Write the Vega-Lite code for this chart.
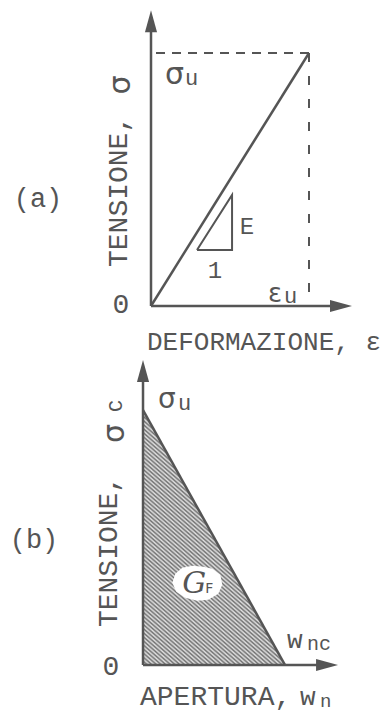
{
  "$schema": "https://vega.github.io/schema/vega-lite/v6.json",
  "background": "white",
  "padding": 0,
  "spacing": 0,
  "config": {
    "view": {"stroke": null},
    "concat": {"spacing": 0},
    "text": {"font": "Liberation Mono", "fill": "#555555"}
  },
  "vconcat": [
    {
      "width": 388,
      "height": 357,
      "encoding": {
        "x": {"field": "e", "type": "quantitative", "scale": {"domain": [-0.9557, 1.5], "nice": false, "zero": false}, "axis": null},
        "y": {"field": "s", "type": "quantitative", "scale": {"domain": [-0.2016, 1.2095], "nice": false, "zero": false}, "axis": null}
      },
      "layer": [
        {
          "data": {"values": [{"e": 0, "s": 0, "e2": 0, "s2": 1.126}, {"e": 0, "s": 0, "e2": 1.2025, "s2": 0}]},
          "mark": {"type": "rule", "color": "#555555", "strokeWidth": 2.5},
          "encoding": {"x2": {"field": "e2"}, "y2": {"field": "s2"}}
        },
        {
          "data": {"values": [{"e": 0, "s": 1.126}]},
          "mark": {"type": "point", "shape": "M0,-1L0.55,1L-0.55,1Z", "filled": true, "color": "#555555", "size": 484, "opacity": 1, "strokeWidth": 0}
        },
        {
          "data": {"values": [{"e": 1.2025, "s": 0}]},
          "mark": {"type": "point", "shape": "M1,0L-1,0.55L-1,-0.55Z", "filled": true, "color": "#555555", "size": 484, "opacity": 1, "strokeWidth": 0}
        },
        {
          "data": {"values": [{"e": 1, "s": 1, "e2": 0, "s2": 1}]},
          "mark": {"type": "rule", "color": "#555555", "strokeWidth": 2, "strokeDash": [9, 7]},
          "encoding": {"x2": {"field": "e2"}, "y2": {"field": "s2"}}
        },
        {
          "data": {"values": [{"e": 1, "s": 1, "e2": 1, "s2": 0}]},
          "mark": {"type": "rule", "color": "#555555", "strokeWidth": 2, "strokeDash": [9, 14]},
          "encoding": {"x2": {"field": "e2"}, "y2": {"field": "s2"}}
        },
        {
          "data": {"values": [{"e": 0, "s": 0}, {"e": 1, "s": 1}]},
          "mark": {"type": "line", "color": "#555555", "strokeWidth": 2.5}
        },
        {
          "data": {"values": [{"e": 0.291, "s": 0.221, "o": 0}, {"e": 0.513, "s": 0.221, "o": 1}, {"e": 0.513, "s": 0.439, "o": 2}, {"e": 0.291, "s": 0.221, "o": 3}]},
          "mark": {"type": "line", "color": "#555555", "strokeWidth": 2},
          "encoding": {"order": {"field": "o", "type": "quantitative"}}
        },
        {
          "data": {"values": [{"e": 0, "s": 1}]},
          "mark": {"type": "text", "text": "σ", "font": "DejaVu Sans", "fontSize": 30, "align": "left", "baseline": "alphabetic", "dx": 14, "dy": 31}
        },
        {
          "data": {"values": [{"e": 0, "s": 1}]},
          "mark": {"type": "text", "text": "u", "fontSize": 22, "align": "left", "baseline": "alphabetic", "dx": 34, "dy": 32}
        },
        {
          "data": {"values": [{"e": 0, "s": 0.5}]},
          "mark": {"type": "text", "text": "TENSIONE,", "fontSize": 28, "angle": -90, "align": "left", "baseline": "middle", "dx": -87.5, "dy": -32.5}
        },
        {
          "data": {"values": [{"e": 0, "s": 0.5}]},
          "mark": {"type": "text", "text": "σ", "font": "DejaVu Sans", "fontSize": 30, "angle": -90, "align": "center", "baseline": "middle", "dx": 94.5, "dy": -30.5}
        },
        {
          "data": {"values": [{"e": 0, "s": 0}]},
          "mark": {"type": "text", "text": "DEFORMAZIONE, ε", "fontSize": 26, "align": "left", "baseline": "alphabetic", "dx": -4, "dy": 44}
        },
        {
          "data": {"values": [{"e": 0, "s": 0.5}]},
          "mark": {"type": "text", "text": "(a)", "fontSize": 27, "align": "center", "baseline": "middle", "dx": -113, "dy": 19.5}
        },
        {
          "data": {"values": [{"e": 0, "s": 0}]},
          "mark": {"type": "text", "text": "0", "fontSize": 28, "align": "center", "baseline": "middle", "dx": -30, "dy": -1}
        },
        {
          "data": {"values": [{"e": 1, "s": 0}]},
          "mark": {"type": "text", "text": "ε", "font": "DejaVu Sans", "fontSize": 26, "align": "left", "baseline": "alphabetic", "dx": -41, "dy": -4}
        },
        {
          "data": {"values": [{"e": 1, "s": 0}]},
          "mark": {"type": "text", "text": "u", "fontSize": 22, "align": "left", "baseline": "alphabetic", "dx": -25, "dy": -3}
        },
        {
          "data": {"values": [{"e": 0.513, "s": 0.33}]},
          "mark": {"type": "text", "text": "E", "fontSize": 24, "align": "center", "baseline": "middle", "dx": 15, "dy": 4.5}
        },
        {
          "data": {"values": [{"e": 0.402, "s": 0.221}]},
          "mark": {"type": "text", "text": "1", "fontSize": 24, "align": "center", "baseline": "middle", "dx": 0.5, "dy": 21}
        }
      ]
    },
    {
      "width": 388,
      "height": 356,
      "encoding": {
        "x": {"field": "e", "type": "quantitative", "scale": {"domain": [-1.007, 1.725], "nice": false, "zero": false}, "axis": null},
        "y": {"field": "s", "type": "quantitative", "scale": {"domain": [-0.188, 1.208], "nice": false, "zero": false}, "axis": null}
      },
      "layer": [
        {
          "data": {"values": [{"e": 0, "s": 1}, {"e": 1, "s": 0}]},
          "mark": {
            "type": "area",
            "opacity": 1,
            "fill": {
              "gradient": "linear",
              "x1": 0, "y1": 1, "x2": 0.394, "y2": 0.192,
              "stops": [
                {"offset": 0, "color": "#707070"}, {"offset": 0.008, "color": "#e2e2e2"},
                {"offset": 0.016, "color": "#707070"}, {"offset": 0.024, "color": "#e2e2e2"},
                {"offset": 0.032, "color": "#707070"}, {"offset": 0.04, "color": "#e2e2e2"},
                {"offset": 0.048, "color": "#707070"}, {"offset": 0.056, "color": "#e2e2e2"},
                {"offset": 0.064, "color": "#707070"}, {"offset": 0.072, "color": "#e2e2e2"},
                {"offset": 0.08, "color": "#707070"}, {"offset": 0.088, "color": "#e2e2e2"},
                {"offset": 0.096, "color": "#707070"}, {"offset": 0.104, "color": "#e2e2e2"},
                {"offset": 0.112, "color": "#707070"}, {"offset": 0.12, "color": "#e2e2e2"},
                {"offset": 0.128, "color": "#707070"}, {"offset": 0.136, "color": "#e2e2e2"},
                {"offset": 0.144, "color": "#707070"}, {"offset": 0.152, "color": "#e2e2e2"},
                {"offset": 0.16, "color": "#707070"}, {"offset": 0.168, "color": "#e2e2e2"},
                {"offset": 0.176, "color": "#707070"}, {"offset": 0.184, "color": "#e2e2e2"},
                {"offset": 0.192, "color": "#707070"}, {"offset": 0.2, "color": "#e2e2e2"},
                {"offset": 0.208, "color": "#707070"}, {"offset": 0.216, "color": "#e2e2e2"},
                {"offset": 0.224, "color": "#707070"}, {"offset": 0.232, "color": "#e2e2e2"},
                {"offset": 0.24, "color": "#707070"}, {"offset": 0.248, "color": "#e2e2e2"},
                {"offset": 0.256, "color": "#707070"}, {"offset": 0.264, "color": "#e2e2e2"},
                {"offset": 0.272, "color": "#707070"}, {"offset": 0.28, "color": "#e2e2e2"},
                {"offset": 0.288, "color": "#707070"}, {"offset": 0.296, "color": "#e2e2e2"},
                {"offset": 0.304, "color": "#707070"}, {"offset": 0.312, "color": "#e2e2e2"},
                {"offset": 0.32, "color": "#707070"}, {"offset": 0.328, "color": "#e2e2e2"},
                {"offset": 0.336, "color": "#707070"}, {"offset": 0.344, "color": "#e2e2e2"},
                {"offset": 0.352, "color": "#707070"}, {"offset": 0.36, "color": "#e2e2e2"},
                {"offset": 0.368, "color": "#707070"}, {"offset": 0.376, "color": "#e2e2e2"},
                {"offset": 0.384, "color": "#707070"}, {"offset": 0.392, "color": "#e2e2e2"},
                {"offset": 0.4, "color": "#707070"}, {"offset": 0.408, "color": "#e2e2e2"},
                {"offset": 0.416, "color": "#707070"}, {"offset": 0.424, "color": "#e2e2e2"},
                {"offset": 0.432, "color": "#707070"}, {"offset": 0.44, "color": "#e2e2e2"},
                {"offset": 0.448, "color": "#707070"}, {"offset": 0.456, "color": "#e2e2e2"},
                {"offset": 0.464, "color": "#707070"}, {"offset": 0.472, "color": "#e2e2e2"},
                {"offset": 0.48, "color": "#707070"}, {"offset": 0.488, "color": "#e2e2e2"},
                {"offset": 0.496, "color": "#707070"}, {"offset": 0.504, "color": "#e2e2e2"},
                {"offset": 0.512, "color": "#707070"}, {"offset": 0.52, "color": "#e2e2e2"},
                {"offset": 0.528, "color": "#707070"}, {"offset": 0.536, "color": "#e2e2e2"},
                {"offset": 0.544, "color": "#707070"}, {"offset": 0.552, "color": "#e2e2e2"},
                {"offset": 0.56, "color": "#707070"}, {"offset": 0.568, "color": "#e2e2e2"},
                {"offset": 0.576, "color": "#707070"}, {"offset": 0.584, "color": "#e2e2e2"},
                {"offset": 0.592, "color": "#707070"}, {"offset": 0.6, "color": "#e2e2e2"},
                {"offset": 0.608, "color": "#707070"}, {"offset": 0.616, "color": "#e2e2e2"},
                {"offset": 0.624, "color": "#707070"}, {"offset": 0.632, "color": "#e2e2e2"},
                {"offset": 0.64, "color": "#707070"}, {"offset": 0.648, "color": "#e2e2e2"},
                {"offset": 0.656, "color": "#707070"}, {"offset": 0.664, "color": "#e2e2e2"},
                {"offset": 0.672, "color": "#707070"}, {"offset": 0.68, "color": "#e2e2e2"},
                {"offset": 0.688, "color": "#707070"}, {"offset": 0.696, "color": "#e2e2e2"},
                {"offset": 0.704, "color": "#707070"}, {"offset": 0.712, "color": "#e2e2e2"},
                {"offset": 0.72, "color": "#707070"}, {"offset": 0.728, "color": "#e2e2e2"},
                {"offset": 0.736, "color": "#707070"}, {"offset": 0.744, "color": "#e2e2e2"},
                {"offset": 0.752, "color": "#707070"}, {"offset": 0.76, "color": "#e2e2e2"},
                {"offset": 0.768, "color": "#707070"}, {"offset": 0.776, "color": "#e2e2e2"},
                {"offset": 0.784, "color": "#707070"}, {"offset": 0.792, "color": "#e2e2e2"},
                {"offset": 0.8, "color": "#707070"}, {"offset": 0.808, "color": "#e2e2e2"},
                {"offset": 0.816, "color": "#707070"}, {"offset": 0.824, "color": "#e2e2e2"},
                {"offset": 0.832, "color": "#707070"}, {"offset": 0.84, "color": "#e2e2e2"},
                {"offset": 0.848, "color": "#707070"}, {"offset": 0.856, "color": "#e2e2e2"},
                {"offset": 0.864, "color": "#707070"}, {"offset": 0.872, "color": "#e2e2e2"},
                {"offset": 0.88, "color": "#707070"}, {"offset": 0.888, "color": "#e2e2e2"},
                {"offset": 0.896, "color": "#707070"}, {"offset": 0.904, "color": "#e2e2e2"},
                {"offset": 0.912, "color": "#707070"}, {"offset": 0.92, "color": "#e2e2e2"},
                {"offset": 0.928, "color": "#707070"}, {"offset": 0.936, "color": "#e2e2e2"},
                {"offset": 0.944, "color": "#707070"}, {"offset": 0.952, "color": "#e2e2e2"},
                {"offset": 0.96, "color": "#707070"}, {"offset": 0.968, "color": "#e2e2e2"},
                {"offset": 0.976, "color": "#707070"}, {"offset": 0.984, "color": "#e2e2e2"},
                {"offset": 0.992, "color": "#707070"}, {"offset": 1, "color": "#e2e2e2"}
              ]
            }
          },
          "encoding": {"y2": {"datum": 0}}
        },
        {
          "data": {"values": [{"e": 0, "s": 1}, {"e": 1, "s": 0}]},
          "mark": {"type": "line", "color": "#555555", "strokeWidth": 2.5}
        },
        {
          "data": {"values": [{"e": 0, "s": 0, "e2": 0, "s2": 1.153}, {"e": 0, "s": 0, "e2": 1.296, "s2": 0}]},
          "mark": {"type": "rule", "color": "#555555", "strokeWidth": 2.5},
          "encoding": {"x2": {"field": "e2"}, "y2": {"field": "s2"}}
        },
        {
          "data": {"values": [{"e": 0, "s": 1.153}]},
          "mark": {"type": "point", "shape": "M0,-1L0.55,1L-0.55,1Z", "filled": true, "color": "#555555", "size": 484, "opacity": 1, "strokeWidth": 0}
        },
        {
          "data": {"values": [{"e": 1.296, "s": 0}]},
          "mark": {"type": "point", "shape": "M1,0L-1,0.55L-1,-0.55Z", "filled": true, "color": "#555555", "size": 484, "opacity": 1, "strokeWidth": 0}
        },
        {
          "data": {"values": [{"e": 0.333, "s": 0.333}]},
          "mark": {"type": "point", "shape": "M-0.6,0.083L-0.5,-0.217L-0.267,-0.417L0.067,-0.483L0.433,-0.45L0.733,-0.383L1,-0.183L1.067,0.15L0.933,0.45L0.6,0.65L0.233,0.683L-0.167,0.583L-0.467,0.383Z", "filled": true, "color": "white", "size": 3600, "opacity": 1, "strokeWidth": 0}
        },
        {
          "data": {"values": [{"e": 0.333, "s": 0.333}]},
          "mark": {"type": "text", "text": "G", "font": "DejaVu Serif", "fontStyle": "italic", "fontSize": 30, "align": "left", "baseline": "alphabetic", "dx": -8, "dy": 13}
        },
        {
          "data": {"values": [{"e": 0.333, "s": 0.333}]},
          "mark": {"type": "text", "text": "F", "font": "DejaVu Sans", "fontSize": 14, "align": "left", "baseline": "alphabetic", "dx": 15, "dy": 13}
        },
        {
          "data": {"values": [{"e": 0, "s": 1}]},
          "mark": {"type": "text", "text": "σ", "font": "DejaVu Sans", "fontSize": 28, "align": "left", "baseline": "alphabetic", "dx": 15, "dy": -2}
        },
        {
          "data": {"values": [{"e": 0, "s": 1}]},
          "mark": {"type": "text", "text": "u", "fontSize": 22, "align": "left", "baseline": "alphabetic", "dx": 35, "dy": 0}
        },
        {
          "data": {"values": [{"e": 0, "s": 0.5}]},
          "mark": {"type": "text", "text": "TENSIONE,", "fontSize": 28, "angle": -90, "align": "left", "baseline": "middle", "dx": -89.5, "dy": -34}
        },
        {
          "data": {"values": [{"e": 0, "s": 0.5}]},
          "mark": {"type": "text", "text": "σ", "font": "DejaVu Sans", "fontSize": 30, "angle": -90, "align": "center", "baseline": "middle", "dx": 104, "dy": -28}
        },
        {
          "data": {"values": [{"e": 0, "s": 1}]},
          "mark": {"type": "text", "text": "C", "fontSize": 20, "angle": -90, "align": "center", "baseline": "middle", "dx": 4, "dy": -27.5}
        },
        {
          "data": {"values": [{"e": 0, "s": 0.5}]},
          "mark": {"type": "text", "text": "(b)", "fontSize": 27, "align": "center", "baseline": "middle", "dx": -109, "dy": 2.5}
        },
        {
          "data": {"values": [{"e": 0, "s": 0}]},
          "mark": {"type": "text", "text": "0", "fontSize": 28, "align": "center", "baseline": "middle", "dx": -32, "dy": 2}
        },
        {
          "data": {"values": [{"e": 0, "s": 0}]},
          "mark": {"type": "text", "text": "APERTURA,", "fontSize": 28, "align": "left", "baseline": "alphabetic", "dx": -3, "dy": 40}
        },
        {
          "data": {"values": [{"e": 0, "s": 0}]},
          "mark": {"type": "text", "text": "w", "fontSize": 26, "align": "left", "baseline": "alphabetic", "dx": 157, "dy": 40}
        },
        {
          "data": {"values": [{"e": 0, "s": 0}]},
          "mark": {"type": "text", "text": "n", "fontSize": 19, "align": "left", "baseline": "alphabetic", "dx": 177, "dy": 42}
        },
        {
          "data": {"values": [{"e": 1, "s": 0}]},
          "mark": {"type": "text", "text": "w", "fontSize": 26, "align": "left", "baseline": "alphabetic", "dx": 2, "dy": -17}
        },
        {
          "data": {"values": [{"e": 1, "s": 0}]},
          "mark": {"type": "text", "text": "nc", "fontSize": 20, "align": "left", "baseline": "alphabetic", "dx": 22, "dy": -15}
        }
      ]
    }
  ]
}
